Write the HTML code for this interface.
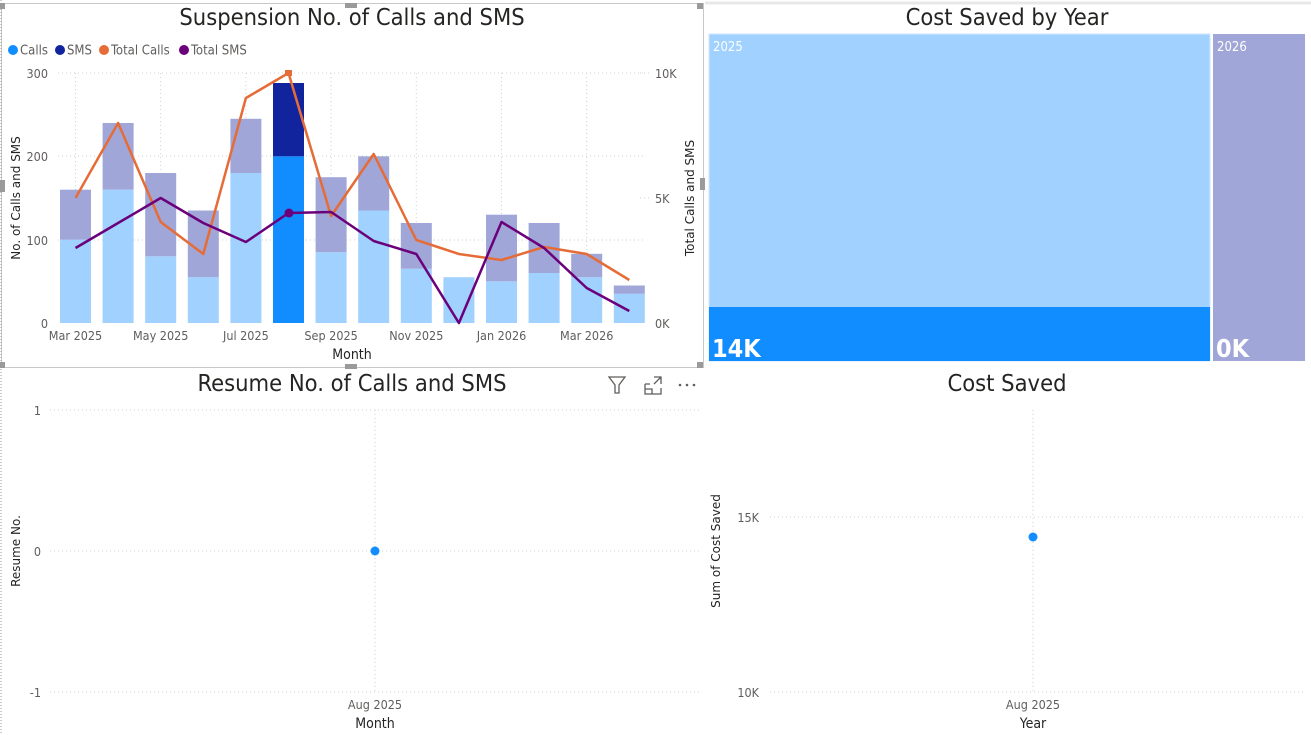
<!DOCTYPE html>
<html><head><meta charset="utf-8"><style>
html,body{margin:0;padding:0;background:#fff;}
body{width:1311px;height:735px;overflow:hidden;position:relative;font-family:"DejaVu Sans Condensed","Liberation Sans Narrow","Liberation Sans",sans-serif;}
svg{position:absolute;left:0;top:0;}
</style></head><body>
<svg width="1311" height="735" viewBox="0 0 1311 735" font-family="'DejaVu Sans Condensed','Liberation Sans',sans-serif">
<rect x="1.5" y="3.5" width="702" height="364" fill="none" stroke="#c8c8c8" stroke-width="1"/>
<line x1="1" y1="0" x2="1" y2="735" stroke="#999" stroke-dasharray="1,2"/>
<line x1="705" y1="3" x2="1311" y2="3" stroke="#e8e8e8" stroke-width="3"/>
<rect x="0" y="3" width="5" height="6" fill="#9a9a9a"/><rect x="345" y="3" width="12" height="5" fill="#9a9a9a"/><rect x="697" y="3" width="6" height="6" fill="#9a9a9a"/>
<rect x="0" y="180" width="5" height="12" fill="#9a9a9a"/><rect x="700" y="178" width="5" height="12" fill="#9a9a9a"/>
<rect x="0" y="362" width="5" height="6" fill="#9a9a9a"/><rect x="345" y="364" width="12" height="5" fill="#9a9a9a"/><rect x="697" y="362" width="6" height="6" fill="#9a9a9a"/>

<!-- Chart 1 -->
<text x="352" y="25" font-size="23.5" text-anchor="middle" fill="#252423">Suspension No. of Calls and SMS</text>
<g font-size="13" fill="#605e5c">
<circle cx="13" cy="50" r="5" fill="#118DFF"/><text x="20" y="54.5">Calls</text>
<circle cx="60" cy="50" r="5" fill="#12239E"/><text x="67" y="54.5">SMS</text>
<circle cx="104" cy="50" r="5" fill="#E66C37"/><text x="111" y="54.5">Total Calls</text>
<circle cx="184" cy="50" r="5" fill="#6B007B"/><text x="191" y="54.5">Total SMS</text>
</g>
<g stroke="#d0d0d0" stroke-dasharray="1,3" stroke-width="1">
<line x1="58" y1="73" x2="645" y2="73"/><line x1="58" y1="156" x2="645" y2="156"/><line x1="58" y1="240" x2="645" y2="240"/>
<line x1="75.5" y1="73" x2="75.5" y2="323"/><line x1="160.7" y1="73" x2="160.7" y2="323"/><line x1="245.9" y1="73" x2="245.9" y2="323"/><line x1="331.1" y1="73" x2="331.1" y2="323"/><line x1="416.3" y1="73" x2="416.3" y2="323"/><line x1="501.5" y1="73" x2="501.5" y2="323"/><line x1="586.7" y1="73" x2="586.7" y2="323"/>
<line x1="640" y1="73" x2="652" y2="73"/><line x1="640" y1="198" x2="652" y2="198"/>
</g>
<g font-size="12.5" fill="#605e5c" text-anchor="end">
<text x="48" y="78">300</text><text x="48" y="161">200</text><text x="48" y="245">100</text><text x="48" y="328">0</text>
</g>
<g font-size="12.5" fill="#605e5c">
<text x="655" y="78">10K</text><text x="655" y="203">5K</text><text x="655" y="328">0K</text>
</g>
<g font-size="12.5" fill="#605e5c" text-anchor="middle">
<text x="75.5" y="340">Mar 2025</text><text x="160.7" y="340">May 2025</text><text x="245.9" y="340">Jul 2025</text><text x="331.1" y="340">Sep 2025</text><text x="416.3" y="340">Nov 2025</text><text x="501.5" y="340">Jan 2026</text><text x="586.7" y="340">Mar 2026</text>
</g>
<text x="352" y="359" font-size="14" text-anchor="middle" fill="#252423">Month</text>
<text transform="translate(20,198) rotate(-90)" font-size="12" text-anchor="middle" fill="#252423" font-family="'DejaVu Sans','Liberation Sans',sans-serif">No. of Calls and SMS</text>
<text transform="translate(694,198) rotate(-90)" font-size="12" text-anchor="middle" fill="#252423" font-family="'DejaVu Sans','Liberation Sans',sans-serif">Total Calls and SMS</text>
<g fill="#A0D1FF">
<rect x="60" y="239.7" width="31" height="83.3"/>
<rect x="102.6" y="189.7" width="31" height="133.3"/>
<rect x="145.2" y="256.3" width="31" height="66.7"/>
<rect x="187.8" y="277.2" width="31" height="45.8"/>
<rect x="230.4" y="173" width="31" height="150"/>
<rect x="315.6" y="252.2" width="31" height="70.8"/>
<rect x="358.2" y="210.5" width="31" height="112.5"/>
<rect x="400.8" y="268.8" width="31" height="54.2"/>
<rect x="443.4" y="277.2" width="31" height="45.8"/>
<rect x="486" y="281.3" width="31" height="41.7"/>
<rect x="528.6" y="273" width="31" height="50"/>
<rect x="571.2" y="277.2" width="31" height="45.8"/>
<rect x="613.8" y="293.8" width="31" height="29.2"/>
</g>
<g fill="#A0A7D8">
<rect x="60" y="189.7" width="31" height="50"/>
<rect x="102.6" y="123" width="31" height="66.7"/>
<rect x="145.2" y="173" width="31" height="83.3"/>
<rect x="187.8" y="210.5" width="31" height="66.7"/>
<rect x="230.4" y="118.8" width="31" height="54.2"/>
<rect x="315.6" y="177.2" width="31" height="75"/>
<rect x="358.2" y="156.3" width="31" height="54.2"/>
<rect x="400.8" y="223" width="31" height="45.8"/>
<rect x="486" y="214.7" width="31" height="66.6"/>
<rect x="528.6" y="223" width="31" height="50"/>
<rect x="571.2" y="253.8" width="31" height="23.4"/>
<rect x="613.8" y="285.5" width="31" height="8.3"/>
</g>
<rect x="273" y="156.3" width="31" height="166.7" fill="#118DFF"/>
<rect x="273" y="83" width="31" height="73.3" fill="#12239E"/>
<polyline fill="none" stroke="#E66C37" stroke-width="2.5" stroke-linejoin="round" points="75.5,198 118.1,123 160.7,222 203.3,254 245.9,98 288.5,73 331.1,216 373.7,154 416.3,240 458.9,254 501.5,260 544.1,247 586.7,254 629.3,280"/>
<rect x="285" y="70" width="7" height="6" fill="#E66C37"/>
<polyline fill="none" stroke="#6B007B" stroke-width="2.5" stroke-linejoin="round" points="75.5,248 118.1,223 160.7,198 203.3,223 245.9,242 288.5,213 331.1,212 373.7,241 416.3,254 458.9,323 501.5,222 544.1,248 586.7,288 629.3,311"/>
<circle cx="289" cy="213" r="4.5" fill="#6B007B"/>

<!-- Chart 2 treemap -->
<text x="1007" y="25" font-size="23.5" text-anchor="middle" fill="#252423">Cost Saved by Year</text>
<rect x="709" y="34" width="501" height="327" fill="#A0D1FF" stroke="#cfe6ff" stroke-width="1"/>
<rect x="709" y="307" width="501" height="54" fill="#118DFF"/>
<rect x="1213" y="34" width="92" height="327" fill="#A0A7D8"/>
<g fill="#fff">
<text x="713" y="51" font-size="13">2025</text>
<text x="1217" y="51" font-size="13">2026</text>
<text x="712" y="357" font-size="25" font-weight="bold">14K</text>
<text x="1216" y="357" font-size="25" font-weight="bold">0K</text>
</g>

<!-- Chart 3 -->
<text x="352" y="391" font-size="23.5" text-anchor="middle" fill="#252423">Resume No. of Calls and SMS</text>
<g fill="none" stroke="#605e5c" stroke-width="1.3">
<path d="M609,377 h16 l-6,8 v8 h-4 v-8 z"/>
<path d="M645,384 v10 h16 v-6 M645,384 h5 M654,377 h7 v7 M661,377 l-7,7 M645,389 h7 v5"/>
</g>
<g fill="#605e5c"><circle cx="680" cy="385" r="1.3"/><circle cx="687" cy="385" r="1.3"/><circle cx="694" cy="385" r="1.3"/></g>
<g stroke="#d0d0d0" stroke-dasharray="1,3">
<line x1="50" y1="410" x2="700" y2="410"/><line x1="50" y1="551" x2="700" y2="551"/><line x1="50" y1="692" x2="700" y2="692"/>
<line x1="375" y1="410" x2="375" y2="692"/>
</g>
<g font-size="12.5" fill="#605e5c" text-anchor="end"><text x="41" y="415">1</text><text x="41" y="556">0</text><text x="41" y="697">-1</text></g>
<text x="375" y="709" font-size="12.5" text-anchor="middle" fill="#605e5c">Aug 2025</text>
<text x="375" y="728" font-size="14" text-anchor="middle" fill="#252423">Month</text>
<text transform="translate(20,551) rotate(-90)" font-size="12" text-anchor="middle" fill="#252423" font-family="'DejaVu Sans','Liberation Sans',sans-serif">Resume No.</text>
<circle cx="375" cy="551" r="4.5" fill="#118DFF"/>

<!-- Chart 4 -->
<text x="1007" y="391" font-size="23.5" text-anchor="middle" fill="#252423">Cost Saved</text>
<g stroke="#d0d0d0" stroke-dasharray="1,3">
<line x1="770" y1="517" x2="1305" y2="517"/><line x1="770" y1="692" x2="1305" y2="692"/>
<line x1="1033" y1="410" x2="1033" y2="692"/>
</g>
<g font-size="12.5" fill="#605e5c" text-anchor="end"><text x="759" y="522">15K</text><text x="759" y="697">10K</text></g>
<text x="1033" y="709" font-size="12.5" text-anchor="middle" fill="#605e5c">Aug 2025</text>
<text x="1033" y="728" font-size="14" text-anchor="middle" fill="#252423">Year</text>
<text transform="translate(720,551) rotate(-90)" font-size="12" text-anchor="middle" fill="#252423" font-family="'DejaVu Sans','Liberation Sans',sans-serif">Sum of Cost Saved</text>
<circle cx="1033" cy="537" r="4.5" fill="#118DFF"/>
</svg>
</body></html>
